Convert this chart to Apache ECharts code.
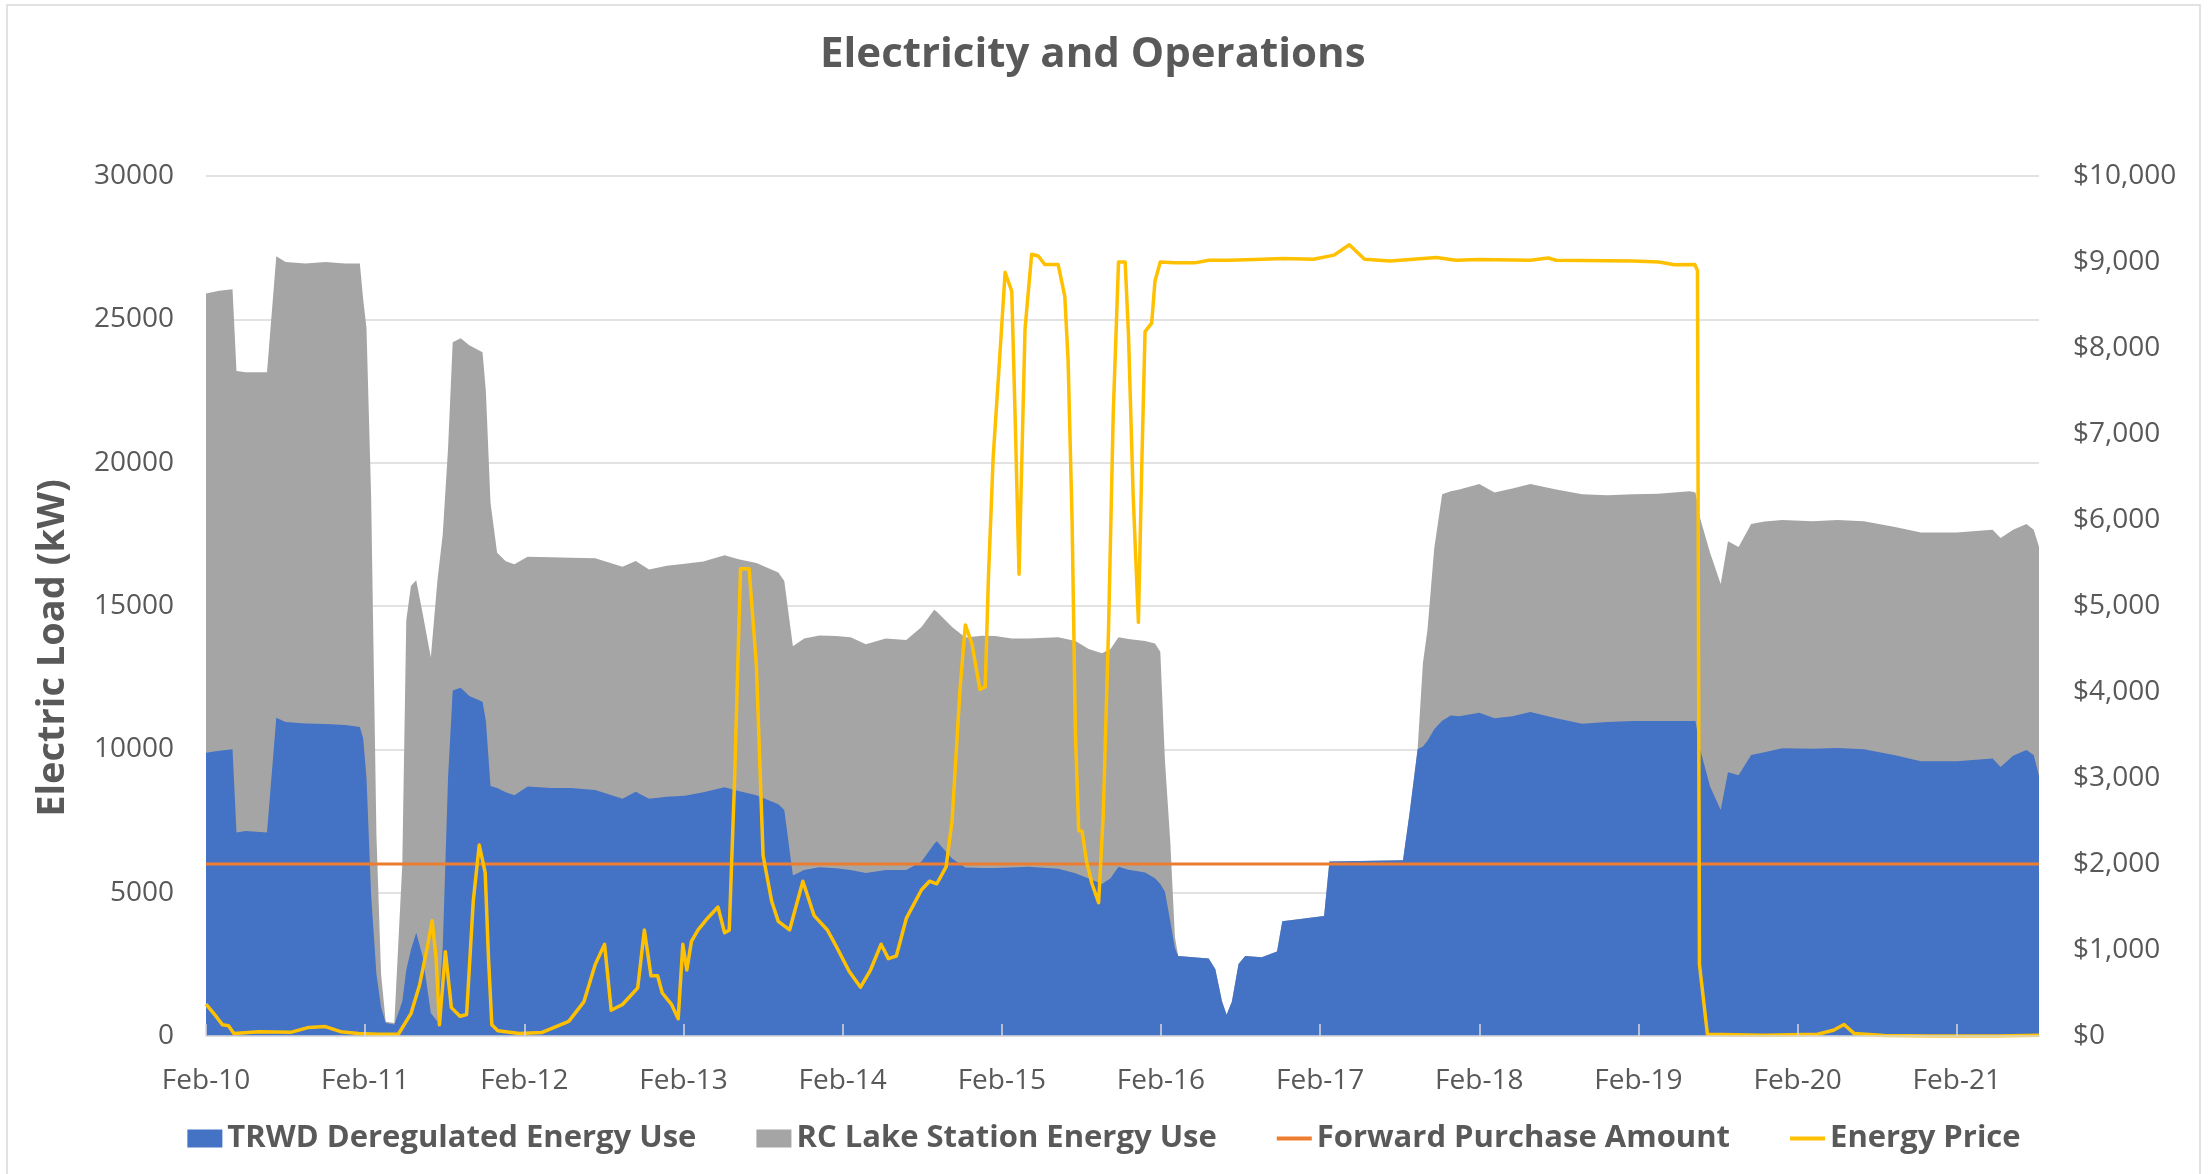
<!DOCTYPE html>
<html>
<head>
<meta charset="utf-8">
<title>Electricity and Operations</title>
<script src="https://cdn.jsdelivr.net/npm/echarts@6/dist/echarts.min.js"></script>
<style>
	html, body { margin: 0; padding: 0; background: #fff; }
	#chart { width: 2208px; height: 1174px; }
</style>
</head>
<body>
<div id="chart"></div>
<script>
// x tick labels, one per day starting Feb-10 00:00
var dayLabels = ['Feb-10', 'Feb-11', 'Feb-12', 'Feb-13', 'Feb-14', 'Feb-15', 'Feb-16', 'Feb-17', 'Feb-18', 'Feb-19', 'Feb-20', 'Feb-21'];

// hours since Feb-10 00:00 for the load series
var loadHours = [0, 2, 4, 4.6, 6, 9.2, 10.6, 12, 15, 18, 21, 23.2, 23.7, 24.2, 24.9, 25.7, 26.4, 27.1, 28.4, 29.6,
	30.2, 30.9, 31.7, 32.7, 33.9, 34.9, 35.7, 36.5, 37.2, 38.4, 39.7, 41.7, 42.2, 42.9, 43.9, 45.2, 46.5, 48.5, 52, 55,
	58.7, 62.8, 64.8, 66.8, 69.5, 72.2, 75, 78.2, 80.3, 83, 86.3, 87.2, 88.5, 90.2, 92.5, 95, 97.2, 99.5, 102.5, 105.6,
	107.9, 109.8, 110.2, 112.5, 114.5, 117, 119, 121.5, 124, 128.5, 131.1, 133.1, 135.1, 136.4, 137.6, 139.1, 141.6, 143.1, 143.9, 144.6,
	145.4, 146.1, 146.6, 151.2, 152.2, 153.2, 153.9, 154.7, 155.7, 156.7, 159.2, 161.5, 162.3, 168.6, 169.4, 180.5, 181.5, 182.7, 183.5, 184.2,
	185.2, 186.4, 187.7, 189, 192, 194.3, 197, 199.7, 203.6, 207.5, 211.3, 215.2, 219, 223.7, 224.6, 225.3, 226.8, 228.4, 229.5, 231.1,
	233, 235, 237.7, 242.3, 246, 250, 254.7, 258.6, 264, 269.4, 270.6, 272.5, 274.5, 275.6, 276.4];

// TRWD deregulated energy use (kW)
var trwdLoad = [9880, 9950, 10000, 7100, 7150, 7100, 11100, 10950, 10900, 10880, 10850, 10780, 10390, 9000, 4900, 2150, 1000, 450, 400, 1200,
	2300, 3000, 3600, 2750, 800, 500, 3100, 9000, 12050, 12150, 11860, 11660, 11000, 8720, 8650, 8500, 8400, 8700, 8650, 8650,
	8580, 8280, 8520, 8280, 8350, 8380, 8500, 8680, 8550, 8400, 8080, 7880, 5600, 5790, 5890, 5850, 5790, 5690, 5790, 5790,
	6090, 6700, 6790, 6190, 5880, 5860, 5860, 5880, 5900, 5830, 5680, 5490, 5300, 5500, 5900, 5800, 5700, 5500, 5300, 5030,
	4000, 3070, 2790, 2700, 2330, 1210, 745, 1200, 2510, 2790, 2750, 2950, 4000, 4190, 6090, 6130, 7800, 10000, 10100, 10300,
	10700, 11000, 11180, 11150, 11280, 11080, 11150, 11300, 11080, 10890, 10950, 10990, 10990, 10990, 10990, 10000, 8700, 7880, 9200, 9100,
	9800, 9900, 10040, 10020, 10050, 10000, 9790, 9580, 9580, 9680, 9380, 9780, 9980, 9800, 9080];

// RC Lake Station energy use (kW), sits on top of TRWD
var rcLakeLoad = [16020, 16050, 16050, 16100, 16000, 16050, 16100, 16050, 16050, 16120, 16100, 16170, 15310, 15700, 13900, 4850, 1150, 50, 50, 4800,
	12200, 12700, 12300, 11950, 12400, 15400, 14400, 11500, 12150, 12190, 12240, 12190, 11500, 9880, 8210, 8060, 8060, 8020, 8050, 8030,
	8090, 8090, 8050, 7990, 8050, 8090, 8050, 8090, 8080, 8100, 8090, 7990, 8000, 8080, 8080, 8100, 8120, 7980, 8080, 8020,
	8180, 8170, 8010, 8080, 8020, 8100, 8090, 7990, 7970, 8080, 8100, 8010, 8050, 8000, 8010, 8050, 8080, 8190, 8100, 4570,
	2800, 380, 0, 0, 0, 0, 0, 0, 0, 0, 0, 0, 0, 0, 0, 0, 0, 0, 2900, 3900,
	6300, 7900, 7820, 7910, 7980, 7880, 7950, 7960, 7980, 8010, 7910, 7910, 7930, 8010, 7970, 8060, 8160, 7890, 8060, 7960,
	8060, 8050, 7960, 7940, 7950, 7960, 7970, 7980, 7980, 7980, 7990, 7880, 7880, 7860, 7990];

// forward purchase amount (kW), flat over the whole period
var forwardPurchase = 6000;

// hours since Feb-10 00:00 for the energy price
var priceHours = [0, 1.5, 2.5, 3.4, 4.2, 8, 12.9, 15.5, 18, 20.3, 23, 26, 29, 30.9, 32.2, 33.4, 34.1, 34.7, 35.2, 36.1,
	37, 38.3, 39.3, 40.3, 41.2, 42.1, 42.6, 43.1, 44, 47.3, 50.6, 54.7, 57, 58.7, 60.1, 61.1, 62.8, 64.4, 65.1, 66.1,
	67.1, 68.1, 68.8, 70.2, 71.2, 71.9, 72.5, 73.2, 74.2, 75.6, 77.2, 78.2, 78.9, 79.7, 80.6, 81.9, 83, 84, 85.3, 86.3,
	88, 90, 91.7, 93.7, 95.1, 97, 98.7, 100.2, 101.8, 102.9, 104.1, 105.6, 107.9, 109.1, 110.2, 111.6, 112.5, 113.7, 114.5, 115.5,
	116.7, 117.5, 118, 118.7, 119.5, 120.5, 121.5, 122, 122.6, 123.5, 124.5, 125.5, 126.5, 128.5, 129.5, 130, 130.6, 131.1, 131.6, 132.1,
	132.8, 133.6, 134.6, 135.3, 136.1, 136.8, 137.6, 138.6, 139.1, 139.8, 140.6, 141.1, 141.6, 142.6, 143.1, 143.9, 146.1, 149.1, 151.2, 154.2,
	159.4, 162.4, 167, 170.1, 172.4, 174.7, 178.6, 185.5, 188.5, 192, 199.7, 202.4, 203.6, 215.2, 219.1, 221.4, 224.5, 224.9, 225.2, 226.4,
	235, 243, 245.4, 247, 248.5, 253.1, 260, 270, 276.4];

// energy price ($/MWh)
var energyPrice = [370, 230, 130, 120, 30, 50, 45, 100, 110, 50, 30, 20, 20, 260, 590, 1045, 1340, 900, 130, 980,
	330, 230, 250, 1570, 2220, 1900, 900, 130, 60, 30, 40, 170, 400, 833, 1067, 300, 367, 500, 560, 1233,
	700, 700, 500, 367, 200, 1067, 767, 1100, 1233, 1367, 1500, 1200, 1230, 2967, 5433, 5433, 4300, 2100, 1567, 1333,
	1233, 1800, 1400, 1233, 1033, 750, 567, 767, 1067, 900, 930, 1367, 1700, 1800, 1770, 1967, 2500, 4033, 4780, 4560,
	4030, 4060, 5370, 6730, 7670, 8880, 8660, 7230, 5370, 8220, 9090, 9070, 8970, 8970, 8600, 7850, 5990, 3510, 2390, 2380,
	2020, 1770, 1550, 2580, 4750, 7230, 9000, 9000, 8160, 6300, 4810, 6610, 8190, 8290, 8780, 9000, 8990, 8990, 9020, 9020,
	9033, 9040, 9033, 9080, 9200, 9033, 9013, 9053, 9020, 9030, 9020, 9047, 9020, 9013, 9000, 8967, 8970, 8900, 833, 20,
	10, 20, 67, 133, 30, 5, 0, 0, 10];
</script>
<script>
	var chart = echarts.init(document.getElementById('chart'));

	function pairs(xs, ys) {
		var out = [];
		for (var i = 0; i < xs.length; i++) {
			out.push([xs[i], ys[i]]);
		}
		return out;
	}

	// gray area goes from 0 up to TRWD + RC Lake, blue is drawn over it
	var stackedTop = trwdLoad.map(function(v, i) { return v + rcLakeLoad[i]; });

	var lastHour = loadHours[loadHours.length - 1];
	var dayTicks = dayLabels.map(function(d, i) { return i * 24; });
	var textColor = '#595959';
	var font = 'Open Sans';
	// thin bar inside a 35x18 box, legend icon for the line series
	var lineIcon = 'path://M0,0 L0.01,0 M0,7 L35,7 L35,11 L0,11 Z M35,18 L34.99,18';

	var option = {
		animation: false,
		backgroundColor: '#fff',
		textStyle: { fontFamily: font },
		title: {
			text: 'Electricity and Operations',
			left: 820,
			top: 34,
			padding: 0,
			textStyle: { fontFamily: font, fontSize: 42, fontWeight: 'bold', color: textColor }
		},
		legend: {
			left: 'center',
			top: 1118,
			itemWidth: 35,
			itemHeight: 18,
			itemGap: 60,
			textStyle: { fontFamily: font, fontSize: 31, fontWeight: 'bold', color: textColor },
			data: [
				{ name: 'TRWD Deregulated Energy Use', icon: 'rect' },
				{ name: 'RC Lake Station Energy Use', icon: 'rect' },
				{ name: 'Forward Purchase Amount', icon: lineIcon },
				{ name: 'Energy Price', icon: lineIcon }
			]
		},
		grid: { left: 206, right: 169, top: 176, bottom: 138 },
		xAxis: {
			type: 'value',
			min: 0,
			max: lastHour,
			z: 5,
			splitLine: { show: false },
			axisLine: { show: true, lineStyle: { color: '#D9D9D9', width: 1.5 } },
			axisTick: { show: true, inside: true, length: 12, customValues: dayTicks, lineStyle: { color: '#D9D9D9', width: 1.5 } },
			axisLabel: {
				customValues: dayTicks,
				margin: 31,
				fontSize: 28,
				color: textColor,
				fontFamily: font,
				formatter: function(v) { return dayLabels[Math.round(v / 24)] || ''; }
			}
		},
		yAxis: [{
			type: 'value',
			min: 0,
			max: 30000,
			interval: 5000,
			name: 'Electric Load (kW)',
			nameLocation: 'middle',
			nameGap: 134,
			nameRotate: 90,
			nameTextStyle: { fontFamily: font, fontSize: 38, fontWeight: 'bold', color: textColor, padding: [0, 84, 0, 0] },
			axisLine: { show: false },
			axisTick: { show: false },
			splitLine: { lineStyle: { color: '#D9D9D9', width: 1.5 } },
			axisLabel: {
				fontSize: 28,
				color: textColor,
				fontFamily: font,
				margin: 32,
				formatter: function(v) { return String(v); }
			}
		}, {
			type: 'value',
			min: 0,
			max: 10000,
			interval: 1000,
			position: 'right',
			axisLine: { show: false },
			axisTick: { show: false },
			splitLine: { show: false },
			axisLabel: {
				fontSize: 28,
				color: textColor,
				fontFamily: font,
				margin: 34,
				formatter: function(v) { return '$' + v.toLocaleString('en-US'); }
			}
		}],
		series: [{
			name: 'RC Lake Station Energy Use',
			type: 'line',
			symbol: 'none',
			z: 1,
			color: '#A5A5A5',
			lineStyle: { width: 0 },
			areaStyle: { color: '#A5A5A5', opacity: 1 },
			data: pairs(loadHours, stackedTop)
		}, {
			name: 'TRWD Deregulated Energy Use',
			type: 'line',
			symbol: 'none',
			z: 2,
			color: '#4472C4',
			lineStyle: { width: 0 },
			areaStyle: { color: '#4472C4', opacity: 1 },
			data: pairs(loadHours, trwdLoad)
		}, {
			name: 'Forward Purchase Amount',
			type: 'line',
			symbol: 'none',
			z: 3,
			color: '#ED7D31',
			lineStyle: { width: 3, color: '#ED7D31' },
			data: [[0, forwardPurchase], [lastHour, forwardPurchase]]
		}, {
			name: 'Energy Price',
			type: 'line',
			yAxisIndex: 1,
			symbol: 'none',
			z: 4,
			color: '#FFC000',
			lineStyle: { width: 3.5, color: '#FFC000', join: 'round' },
			data: pairs(priceHours, energyPrice)
		}],
		graphic: [{
			type: 'rect',
			shape: { x: 7, y: 5, width: 2193, height: 1180 },
			style: { fill: 'none', stroke: '#D9D9D9', lineWidth: 1.5 },
			silent: true
		}]
	};

	chart.setOption(option);
</script>
</body>
</html>
